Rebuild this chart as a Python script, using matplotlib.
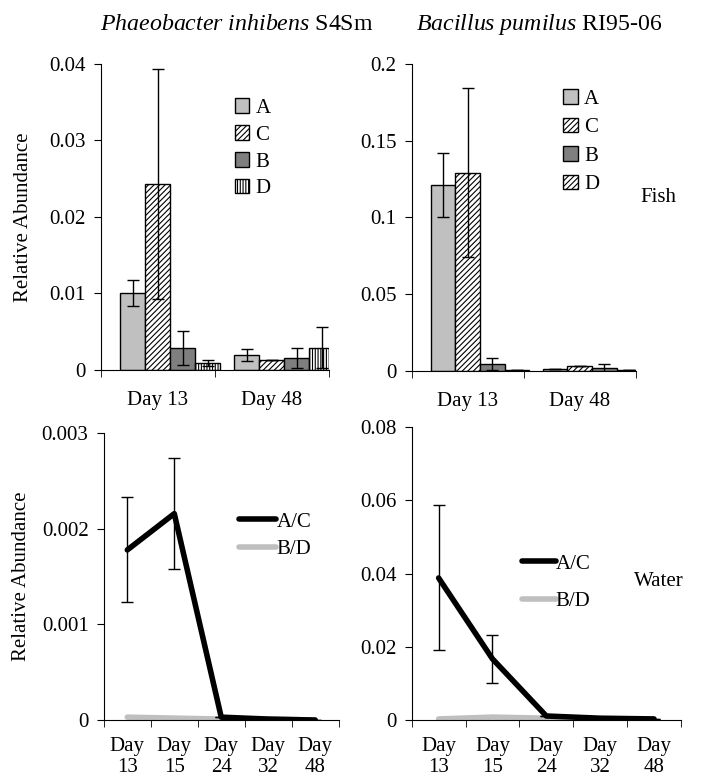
import numpy as np
import matplotlib
matplotlib.use("Agg")
import matplotlib.pyplot as plt
from matplotlib.ticker import FixedLocator

plt.rcParams['font.family'] = ['Liberation Serif', 'DejaVu Serif']
plt.rcParams['mathtext.fontset'] = 'custom'
plt.rcParams['mathtext.rm'] = 'Liberation Serif'
plt.rcParams['mathtext.it'] = 'Liberation Serif:italic'
plt.rcParams['hatch.linewidth'] = 0.8

# fish samples (bars)
bar_days = ['Day 13', 'Day 48']
bar_groups = ['A', 'C', 'B', 'D']
phaeo_fish = {'A': [0.0100, 0.0020], 'C': [0.0243, 0.0013],
              'B': [0.0029, 0.0016], 'D': [0.0009, 0.0029]}
phaeo_fish_err = {'A': [0.0017, 0.0008], 'C': [0.0150, 0.0],
                  'B': [0.0022, 0.0013], 'D': [0.0004, 0.0027]}
bacil_fish = {'A': [0.121, 0.001], 'C': [0.129, 0.003],
              'B': [0.0045, 0.002], 'D': [0.0006, 0.0006]}
bacil_fish_err = {'A': [0.021, 0.0], 'C': [0.055, 0.0],
                  'B': [0.004, 0.0025], 'D': [0.0, 0.0]}

# water samples (lines)
line_days = ['Day\n13', 'Day\n15', 'Day\n24', 'Day\n32', 'Day\n48']
phaeo_ac = [0.00178, 0.00216, 0.00003, 0.00001, 0.0]
phaeo_ac_err = [0.00055, 0.00058, 0, 0, 0]
phaeo_bd = [0.00003, 0.00002, 0.00001, 0.00001, 0.0]
bacil_ac = [0.0388, 0.0167, 0.0011, 0.0005, 0.0003]
bacil_ac_err = [0.0198, 0.0066, 0, 0, 0]
bacil_bd = [0.0003, 0.0008, 0.0005, 0.0003, 0.0002]

FS = 15

fig = plt.figure(figsize=(7.16, 7.79), dpi=100)
ax1 = fig.add_axes([0.141, 0.525, 0.318, 0.393])
ax2 = fig.add_axes([0.575, 0.524, 0.313, 0.394])
ax3 = fig.add_axes([0.145, 0.0757, 0.328, 0.368])
ax4 = fig.add_axes([0.575, 0.0757, 0.376, 0.376])


def style_axis(ax, ncat, labels, pad):
    for s in ['top', 'right']:
        ax.spines[s].set_visible(False)
    ax.set_xlim(-0.5, ncat - 0.5)
    ax.xaxis.set_major_locator(FixedLocator(range(ncat)))
    ax.set_xticklabels(labels, fontsize=FS)
    ax.xaxis.set_minor_locator(FixedLocator(np.arange(ncat + 1) - 0.5))
    ax.tick_params(axis='x', which='major', length=0, pad=pad)
    ax.tick_params(axis='x', which='minor', length=5, direction='out')
    ax.tick_params(axis='y', length=5, direction='out', labelsize=FS, pad=6)


def draw_bars(ax, vals, errs, hatches, ymax, yticks, ytl):
    styles = {'A': ('#c0c0c0', ''), 'C': ('white', '//////'),
              'B': ('#7f7f7f', ''), 'D': ('white', hatches)}
    w = 0.22
    x = np.arange(len(bar_days))
    for i, g in enumerate(bar_groups):
        fc, h = styles[g]
        ax.bar(x - 0.33 + w * i, vals[g], w, align='edge', color=fc,
               hatch=h, edgecolor='black', linewidth=1, label=g, zorder=2)
        ax.errorbar(x - 0.33 + w * i + w / 2, vals[g], yerr=errs[g], fmt='none',
                    ecolor='black', elinewidth=1, capsize=4, capthick=1, zorder=3)
    ax.set_ylim(0, ymax)
    ax.set_yticks(yticks)
    ax.set_yticklabels(ytl)
    style_axis(ax, len(bar_days), bar_days, 15)


draw_bars(ax1, phaeo_fish, phaeo_fish_err, '||||||', 0.04,
          [0, 0.01, 0.02, 0.03, 0.04], ['0', '0.01', '0.02', '0.03', '0.04'])
draw_bars(ax2, bacil_fish, bacil_fish_err, '//////', 0.2,
          [0, 0.05, 0.1, 0.15, 0.2], ['0', '0.05', '0.1', '0.15', '0.2'])

ax1.legend(loc='upper left', bbox_to_anchor=(0.55, 0.915), frameon=False,
           fontsize=FS, handlelength=0.7, handleheight=0.7,
           handletextpad=0.3, labelspacing=0.35, borderaxespad=0)
ax2.legend(loc='upper left', bbox_to_anchor=(0.64, 0.945), frameon=False,
           fontsize=FS, handlelength=0.7, handleheight=0.7,
           handletextpad=0.3, labelspacing=0.43, borderaxespad=0)


def draw_lines(ax, ac, ac_err, bd, ymax, yticks, ytl):
    x = np.arange(len(line_days))
    ax.plot(x, bd, color='#bfbfbf', lw=4, solid_capstyle='round', label='B/D', zorder=2)
    ax.plot(x, ac, color='black', lw=4, solid_capstyle='round', label='A/C', zorder=3)
    ax.errorbar(x, ac, yerr=ac_err, fmt='none', ecolor='black',
                elinewidth=1, capsize=4, capthick=1, zorder=4)
    ax.set_ylim(0, ymax)
    ax.set_yticks(yticks)
    ax.set_yticklabels(ytl)
    style_axis(ax, len(line_days), line_days, 12)
    h, l = ax.get_legend_handles_labels()
    return h[::-1], l[::-1]


h, l = draw_lines(ax3, phaeo_ac, phaeo_ac_err, phaeo_bd, 0.003,
                  [0, 0.001, 0.002, 0.003], ['0', '0.001', '0.002', '0.003'])
ax3.legend(h, l, loc='upper left', bbox_to_anchor=(0.54, 0.755), frameon=False,
           fontsize=FS, handlelength=1.8, handletextpad=0.0, labelspacing=0.4,
           borderaxespad=0)
h, l = draw_lines(ax4, bacil_ac, bacil_ac_err, bacil_bd, 0.08,
                  [0, 0.02, 0.04, 0.06, 0.08], ['0', '0.02', '0.04', '0.06', '0.08'])
ax4.legend(h, l, loc='upper left', bbox_to_anchor=(0.38, 0.595), frameon=False,
           fontsize=FS, handlelength=1.6, handletextpad=0.0, labelspacing=0.85,
           borderaxespad=0)

ax1.set_ylabel('Relative Abundance', fontsize=FS, labelpad=12)
ax3.set_ylabel('Relative Abundance', fontsize=FS, labelpad=8)

fig.text(0.331, 0.969, r'$\it{Phaeobacter\ inhibens}$ S4Sm', fontsize=17.2,
         ha='center', va='center')
fig.text(0.753, 0.969, r'$\it{Bacillus\ pumilus}$ RI95-06', fontsize=17.2,
         ha='center', va='center')
fig.text(0.92, 0.747, 'Fish', fontsize=FS, ha='center', va='center')
fig.text(0.92, 0.253, 'Water', fontsize=FS, ha='center', va='center')

fig.savefig('out.png', dpi=100)
